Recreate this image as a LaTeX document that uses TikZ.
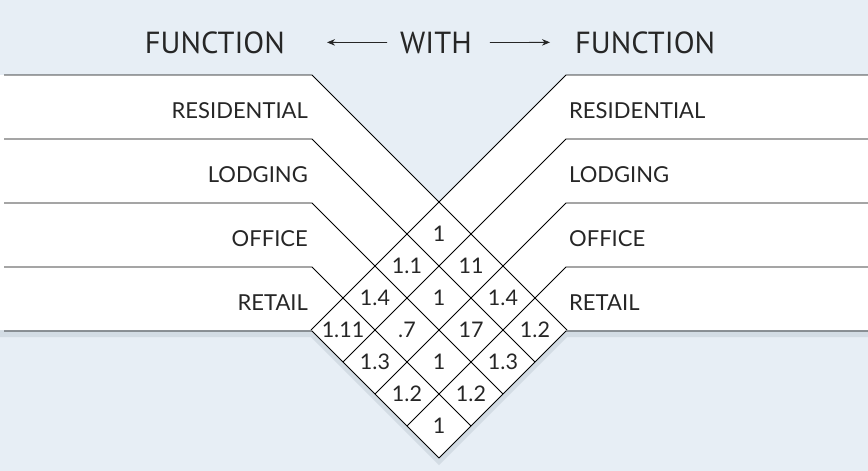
\documentclass[tikz,border=0pt]{standalone}
\usepackage{fontspec}
\setmainfont{Lato}
\newfontfamily\titlefont{PT Sans}
\usetikzlibrary{arrows.meta}
\definecolor{bgblue}{HTML}{E7EEF5}
\definecolor{shadowblue}{HTML}{D3DCE4}
\definecolor{inkgray}{HTML}{262626}

\begin{document}
\begin{tikzpicture}[x=1pt, y=-1pt,
    band/.style={draw=black, line width=0.9pt},
    fnlabel/.style={font=\fontsize{22}{26}\selectfont, text=inkgray, inner sep=0pt},
    cellnum/.style={font=\fontsize{21.5}{25}\selectfont, text=inkgray, inner sep=0pt, anchor=base},
    heading/.style={font=\titlefont\fontsize{30.5}{36}\selectfont, text=inkgray, inner sep=0pt},
    arrow/.style={-{Stealth[length=8pt, width=6.5pt]}, line width=0.8pt, draw=inkgray},
  ]
  % background and the white V-shaped table
  \fill[bgblue] (0,0) rectangle (868,471);
  \useasboundingbox (0,0) rectangle (868,471);
  \fill[shadowblue, yshift=-7pt] (0,75) -- (312,75) -- (439,202) -- (566,75) -- (868,75)
    -- (868,330) -- (567,330) -- (439,458) -- (311,330) -- (0,330) -- cycle;
  \fill[white] (0,75) -- (312,75) -- (439,202) -- (566,75) -- (868,75)
    -- (868,330) -- (567,330) -- (439,458) -- (311,330) -- (0,330) -- cycle;

  % band lines, running down into the diamond grid
  \foreach \k in {0,...,4} {
    \draw[band] (4,75+64*\k) -- (312,75+64*\k) -- ({439+32*(4-\k)},{202+32*(4+\k)});
    \draw[band] (868,75+64*\k) -- (566,75+64*\k) -- ({439-32*(4-\k)},{202+32*(4+\k)});
  }

  % heading
  \node[heading, anchor=base east] (fnleft) at (285,53) {FUNCTION};
  \node[heading, anchor=base] (with) at (436,53) {WITH};
  \node[heading, anchor=base west] (fnright) at (575,53) {FUNCTION};
  \draw[arrow, shorten <=13pt, shorten >=42pt] (with.west) -- (fnleft.east);
  \draw[arrow, shorten <=18pt, shorten >=25pt] (with.east) -- (fnright.west);

  % functions
  \foreach \name [count=\i from 0] in {RESIDENTIAL, LODGING, OFFICE, RETAIL} {
    \node[fnlabel, anchor=base east] (left-\i) at (308,118+64*\i) {\name};
    \node[fnlabel, anchor=base west] (right-\i) at (569,118+64*\i) {\name};
  }

  % values in the cells
  \foreach \k/\j/\v in {0/0/1, 1/0/1.1, 0/1/11, 2/0/1.4, 1/1/1, 0/2/1.4,
      3/0/1.11, 2/1/.7, 1/2/17, 0/3/1.2, 3/1/1.3, 2/2/1, 1/3/1.3,
      3/2/1.2, 2/3/1.2, 3/3/1}
    \node[cellnum] (cell-\k-\j) at ({439+32*(\j-\k)},{241.5+32*(\j+\k)}) {\v};
\end{tikzpicture}
\end{document}
